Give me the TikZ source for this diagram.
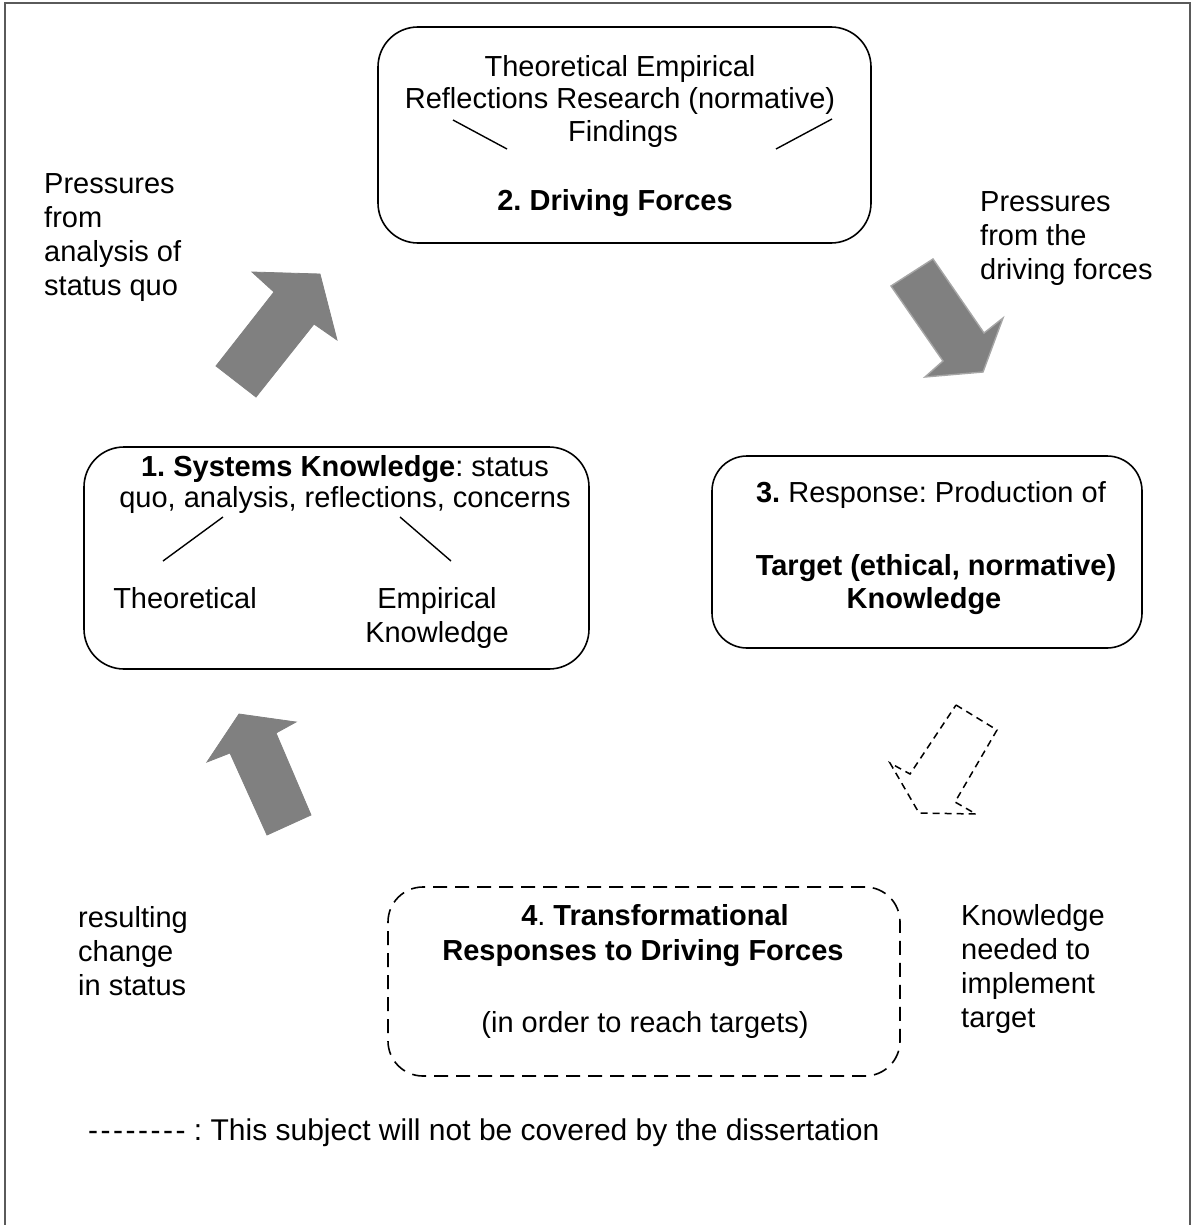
\documentclass[tikz,border=0pt]{standalone}
\usepackage{fontspec}
\setmainfont{Liberation Sans}
\frenchspacing
\definecolor{arrowgray}{HTML}{808080}
\definecolor{framegray}{HTML}{5A5A5A}
\newcommand{\dsh}{-\kern2.5pt}
\tikzset{
  box/.style={draw=black, line width=1.6pt, rounded corners=40pt, inner sep=0pt},
  dbox/.style={box, rounded corners=35pt, dash pattern=on 14pt off 8pt},
  blockarrow/.style={fill=arrowgray, draw=arrowgray, line width=0.8pt, line join=miter},
  dasharrow/.style={draw=black, line width=1.5pt, dash pattern=on 7pt off 5pt},
  tick/.style={draw=black, line width=1.4pt},
  ltxt/.style={anchor=north west, inner sep=0pt, yshift=23.8pt, align=left,
               font=\fontsize{29}{34}\selectfont},
  ctxt/.style={anchor=north, inner sep=0pt, yshift=23.8pt, align=center,
               font=\fontsize{29}{34}\selectfont},
}
\begin{document}
\begin{tikzpicture}[x=1pt,y=-1pt]
\useasboundingbox (0,0) rectangle (1192,1225);
\fill[white] (0,0) rectangle (1192,1225);
% outer frame
\draw[framegray, line width=2pt] (5,3) rectangle (1190,1232);

% boxes
\node[box, minimum width=493pt, minimum height=216pt] (b2) at (624.5,135) {};
\node[box, minimum width=505pt, minimum height=222pt] (b1) at (336.5,558) {};
\node[box, rounded corners=35pt, minimum width=430pt, minimum height=192pt] (b3) at (927,552) {};
\node[dbox, minimum width=512pt, minimum height=189pt] (b4) at (644,981.5) {};

% box 2 text
\node[ctxt] (b2a) at (620,76) {\strut Theoretical Empirical\\[-1.5pt]Reflections Research (normative)};
\node[ctxt] (b2b) at (623,141) {\strut Findings};
\node[ctxt] (b2c) at (615,210) {\strut\textbf{2. Driving Forces}};
\coordinate (t2a) at (453,120); \coordinate (t2b) at (507,149);
\coordinate (t2c) at (832,119); \coordinate (t2d) at (776,149);
\draw[tick] (t2a) -- (t2b);
\draw[tick] (t2c) -- (t2d);

% box 1 text
\node[ctxt] (b1a) at (345,476) {\strut\textbf{1. Systems Knowledge}: status\\[-3pt]quo, analysis, reflections, concerns};
\node[ctxt] (b1b) at (185,608) {\strut Theoretical};
\node[ctxt] (b1c) at (437,608) {\strut Empirical\\Knowledge};
\coordinate (t1a) at (223,517); \coordinate (t1b) at (163,561);
\coordinate (t1c) at (400,517); \coordinate (t1d) at (451,561);
\draw[tick] (t1a) -- (t1b);
\draw[tick] (t1c) -- (t1d);

% box 3 text
\node[ctxt] (b3a) at (931,502) {\strut\textbf{3.} Response: Production of};
\node[ctxt] (b3b) at (936,575) {\strut\textbf{Target (ethical, normative)}};
\node[ctxt] (b3c) at (924,608) {\strut\textbf{Knowledge}};

% box 4 text
\node[ctxt] (b4a) at (655,925) {\strut\textbf{4}. \textbf{Transformational}};
\node[ctxt] (b4b) at (643,960) {\strut\textbf{Responses to Driving Forces}};
\node[ctxt] (b4c) at (645,1032) {\strut(in order to reach targets)};

% side labels
\node[ltxt] (l1) at (44,193) {\strut Pressures\\from\\analysis of\\status quo};
\node[ltxt] (l2) at (980,211) {\strut Pressures\\from the\\driving forces};
\node[ltxt] (l3) at (78,927) {\strut resulting\\change\\in status};
\node[ltxt] (l4) at (961,925) {\strut Knowledge\\needed to\\implement\\target};
\node[ltxt, font=\fontsize{30}{34}\selectfont] (leg) at (88,1140) {\strut \dsh\dsh\dsh\dsh\dsh\dsh\dsh- : This subject will not be covered by the dissertation};

% block arrows
\coordinate (a1p1) at (216,366); \coordinate (a1p2) at (274,292); \coordinate (a1p3) at (252,272);
\coordinate (a1p4) at (320,274); \coordinate (a1p5) at (337,340); \coordinate (a1p6) at (314,324);
\coordinate (a1p7) at (256,397);
\draw[blockarrow] (a1p1) -- (a1p2) -- (a1p3) -- (a1p4) -- (a1p5) -- (a1p6) -- (a1p7) -- cycle;

\coordinate (a2p1) at (891,286); \coordinate (a2p2) at (933,259); \coordinate (a2p3) at (984,333);
\coordinate (a2p4) at (1003,318); \coordinate (a2p5) at (983,372); \coordinate (a2p6) at (925,377);
\coordinate (a2p7) at (943,361);
\draw[blockarrow, draw=arrowgray!70!white, line width=1.4pt] (a2p1) -- (a2p2) -- (a2p3) -- (a2p4) -- (a2p5) -- (a2p6) -- (a2p7) -- cycle;

\coordinate (a3p1) at (956,705); \coordinate (a3p2) at (997,730); \coordinate (a3p3) at (955,802);
\coordinate (a3p4) at (976,814); \coordinate (a3p5) at (919,813); \coordinate (a3p6) at (890,763);
\coordinate (a3p7) at (910,774);
\draw[dasharrow] (a3p1) -- (a3p2) -- (a3p3) -- (a3p4) -- (a3p5) -- (a3p6) -- (a3p7) -- cycle;

\coordinate (a4p1) at (239,714); \coordinate (a4p2) at (296,722); \coordinate (a4p3) at (276,733);
\coordinate (a4p4) at (311,815); \coordinate (a4p5) at (267,835); \coordinate (a4p6) at (230,753);
\coordinate (a4p7) at (207,762);
\draw[blockarrow] (a4p1) -- (a4p2) -- (a4p3) -- (a4p4) -- (a4p5) -- (a4p6) -- (a4p7) -- cycle;
\end{tikzpicture}
\end{document}
